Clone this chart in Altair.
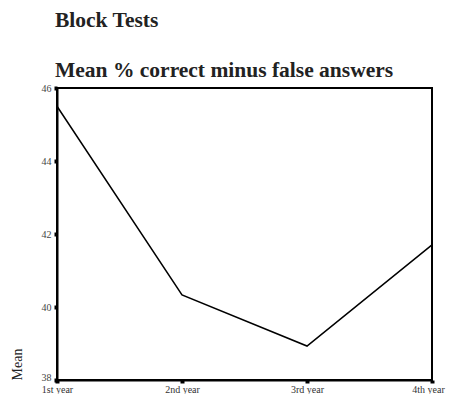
import altair as alt
import pandas as pd

years = ["1st year", "2nd year", "3rd year", "4th year"]
means = [45.5, 40.33, 38.93, 41.7]
y_ticks = [38, 40, 42, 44, 46]

df = pd.DataFrame({"year": years, "mean": means})

font = "Liberation Serif"

chart = alt.Chart(df).mark_line(color="black", strokeWidth=1.5).encode(
    x=alt.X("year:N", sort=years, scale=alt.Scale(type="point", padding=0),
            axis=alt.Axis(title=None, labelAngle=0, labelFont=font, labelFontSize=10,
                          labelColor="#333", domainColor="black", domainWidth=2,
                          tickColor="black", tickWidth=4, tickSize=3, labelPadding=1,
                          labelOffset=alt.expr("datum.value == '4th year' ? -4 : 0"))),
    y=alt.Y("mean:Q", scale=alt.Scale(domain=[38, 46], nice=False, zero=False),
            axis=alt.Axis(title="Mean", values=y_ticks, grid=False, labelFont=font, labelFontSize=10,
                          labelColor="#444", domainColor="black", domainWidth=2,
                          tickColor="black", tickWidth=4, tickSize=3, labelPadding=3,
                          labelOffset=alt.expr("datum.value == 38 ? -3 : 0"),
                          titleFont=font, titleFontSize=14, titleFontWeight="normal",
                          titleColor="#222", titleAnchor="start", titlePadding=17)),
).properties(
    width=375, height=292,
    title=alt.TitleParams(
        text="Block Tests",
        subtitle="Mean % correct minus false answers",
        anchor="start", frame="group", dx=-2,
        font=font, fontSize=21.5, fontWeight="bold", color="#222",
        subtitleFont=font, subtitleFontSize=21.5, subtitleFontWeight="bold", subtitleColor="#222",
        subtitlePadding=29, offset=1.5,
    ),
    padding={"left": 49, "top": 80, "right": 14, "bottom": 14},
    autosize="none",
).configure_view(stroke="black", strokeWidth=2)

chart.save("out.html", embed_options={"renderer": "svg", "actions": False})
